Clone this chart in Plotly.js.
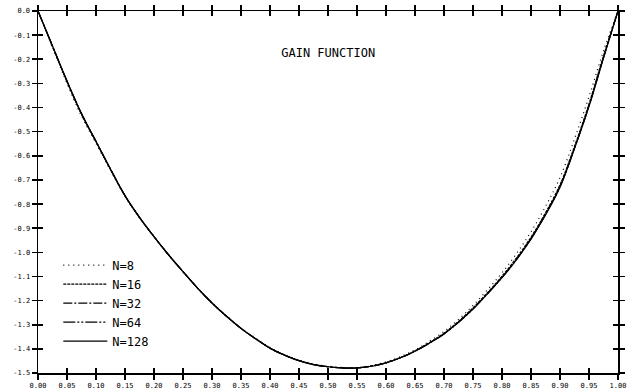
<!DOCTYPE html>
<html>
<head>
<meta charset="utf-8">
<script src="https://cdn.plot.ly/plotly-3.0.1.min.js"></script>
<style>html,body{margin:0;padding:0;background:#fff;}#chart{width:636px;height:389px;}</style>
</head>
<body>
<div id="chart"></div>
<script>
// frequency (fraction of Nyquist)
var freq = [0, 0.025, 0.05, 0.075, 0.10, 0.125, 0.15, 0.175, 0.20, 0.225, 0.25, 0.275, 0.30, 0.325, 0.35, 0.375, 0.40, 0.425, 0.45, 0.475, 0.50, 0.525, 0.55, 0.575, 0.60, 0.625, 0.65, 0.675, 0.70, 0.725, 0.75, 0.775, 0.80, 0.825, 0.85, 0.875, 0.90, 0.925, 0.95, 0.975, 1.00];
var gainN8   = [0, -0.150, -0.300, -0.435, -0.548, -0.660, -0.768, -0.857, -0.936, -1.010, -1.080, -1.147, -1.208, -1.263, -1.313, -1.356, -1.395, -1.424, -1.447, -1.463, -1.472, -1.477, -1.477, -1.469, -1.454, -1.432, -1.404, -1.368, -1.328, -1.278, -1.220, -1.155, -1.085, -1.005, -0.915, -0.810, -0.690, -0.530, -0.355, -0.165, 0];
var gainN16  = [0, -0.147, -0.293, -0.428, -0.542, -0.657, -0.766, -0.856, -0.935, -1.010, -1.080, -1.148, -1.210, -1.265, -1.315, -1.358, -1.397, -1.426, -1.449, -1.465, -1.474, -1.479, -1.479, -1.471, -1.457, -1.436, -1.408, -1.374, -1.335, -1.286, -1.230, -1.167, -1.099, -1.023, -0.937, -0.836, -0.720, -0.561, -0.385, -0.186, 0];
var gainN32  = [0, -0.146, -0.291, -0.426, -0.541, -0.656, -0.765, -0.855, -0.935, -1.010, -1.080, -1.148, -1.210, -1.265, -1.315, -1.358, -1.397, -1.426, -1.449, -1.465, -1.474, -1.479, -1.479, -1.472, -1.458, -1.437, -1.409, -1.375, -1.337, -1.289, -1.233, -1.170, -1.103, -1.028, -0.942, -0.842, -0.726, -0.567, -0.391, -0.191, 0];
var gainN64  = [0, -0.145, -0.290, -0.425, -0.540, -0.655, -0.765, -0.855, -0.935, -1.010, -1.080, -1.148, -1.210, -1.265, -1.315, -1.358, -1.397, -1.426, -1.449, -1.465, -1.474, -1.479, -1.479, -1.472, -1.458, -1.437, -1.410, -1.376, -1.338, -1.290, -1.235, -1.172, -1.105, -1.030, -0.944, -0.844, -0.729, -0.569, -0.394, -0.194, 0];
var gainN128 = [0, -0.145, -0.290, -0.425, -0.540, -0.655, -0.765, -0.855, -0.935, -1.010, -1.080, -1.148, -1.210, -1.265, -1.315, -1.358, -1.397, -1.426, -1.449, -1.465, -1.474, -1.479, -1.479, -1.472, -1.458, -1.437, -1.410, -1.376, -1.338, -1.290, -1.235, -1.172, -1.105, -1.030, -0.945, -0.845, -0.730, -0.570, -0.395, -0.195, 0];

var seriesNames = ['N=8', 'N=16', 'N=32', 'N=64', 'N=128'];
var seriesDash = ['1px,4px', '3px,1px', '9px,2px,2px,2px', '12px,2px,2px,2px,2px,2px', 'solid'];

var xTickVals = [0, 0.05, 0.10, 0.15, 0.20, 0.25, 0.30, 0.35, 0.40, 0.45, 0.50, 0.55, 0.60, 0.65, 0.70, 0.75, 0.80, 0.85, 0.90, 0.95, 1.00];
var xTickText = ['0.00', '0.05', '0.10', '0.15', '0.20', '0.25', '0.30', '0.35', '0.40', '0.45', '0.50', '0.55', '0.60', '0.65', '0.70', '0.75', '0.80', '0.85', '0.90', '0.95', '1.00'];
var yTickVals = [0, -0.1, -0.2, -0.3, -0.4, -0.5, -0.6, -0.7, -0.8, -0.9, -1.0, -1.1, -1.2, -1.3, -1.4, -1.5];
var yTickText = ['0.0', '-0.1', '-0.2', '-0.3', '-0.4', '-0.5', '-0.6', '-0.7', '-0.8', '-0.9', '-1.0', '-1.1', '-1.2', '-1.3', '-1.4', '-1.5'];

var allGains = [gainN8, gainN16, gainN32, gainN64, gainN128];
var traces = allGains.map(function (g, i) {
  return {
    x: freq, y: g, type: 'scatter', mode: 'lines', name: seriesNames[i],
    line: {color: '#000', width: 1.2, dash: seriesDash[i], shape: 'spline', smoothing: 1}
  };
});
// empty trace so the overlay axes (inner half of the cross ticks) are drawn
traces.push({x: [null], y: [null], xaxis: 'x2', yaxis: 'y2', type: 'scatter', mode: 'lines', showlegend: false, hoverinfo: 'skip'});

var mono = 'DejaVu Sans Mono, monospace';
var tickF = {family: mono, size: 7, color: '#000'};
var layout = {
  width: 636, height: 389,
  margin: {l: 38, r: 18, t: 11, b: 16},
  paper_bgcolor: '#fff', plot_bgcolor: '#fff',
  font: {family: mono, color: '#000', size: 7},
  title: {text: 'GAIN FUNCTION', font: {family: mono, size: 12, color: '#000'}, x: 0.516, xanchor: 'center', y: 0.864, yanchor: 'middle', yref: 'container'},
  showlegend: true,
  legend: {x: 0.035, y: 0.048, xanchor: 'left', yanchor: 'bottom', bgcolor: 'rgba(0,0,0,0)', borderwidth: 0, font: {family: mono, size: 12, color: '#000'}, itemwidth: 44, tracegroupgap: 0},
  xaxis: {
    range: [0, 1], showgrid: false, zeroline: false, showline: true, linecolor: '#000', linewidth: 1.5,
    mirror: 'ticks', ticks: 'outside', ticklen: 5, tickwidth: 1.6, tickcolor: '#000',
    tickvals: xTickVals, ticktext: xTickText, tickfont: tickF
  },
  yaxis: {
    range: [-1.5, 0], showgrid: false, zeroline: false, showline: true, linecolor: '#000', linewidth: 1.5,
    mirror: 'ticks', ticks: 'outside', ticklen: 5, tickwidth: 1.6, tickcolor: '#000',
    tickvals: yTickVals, ticktext: yTickText, tickfont: tickF
  },
  xaxis2: {
    overlaying: 'x', anchor: 'y2', side: 'bottom', range: [0, 1], showgrid: false, zeroline: false,
    showline: true, linecolor: 'rgba(0,0,0,0)', mirror: 'ticks',
    ticks: 'inside', ticklen: 5, tickwidth: 1.6, tickcolor: '#000', tickvals: xTickVals, showticklabels: false
  },
  yaxis2: {
    overlaying: 'y', anchor: 'x2', side: 'left', range: [-1.5, 0], showgrid: false, zeroline: false,
    showline: true, linecolor: 'rgba(0,0,0,0)', mirror: 'ticks',
    ticks: 'inside', ticklen: 5, tickwidth: 1.6, tickcolor: '#000', tickvals: yTickVals, showticklabels: false
  }
};

Plotly.newPlot('chart', traces, layout, {displayModeBar: false, staticPlot: true});
</script>
</body>
</html>
